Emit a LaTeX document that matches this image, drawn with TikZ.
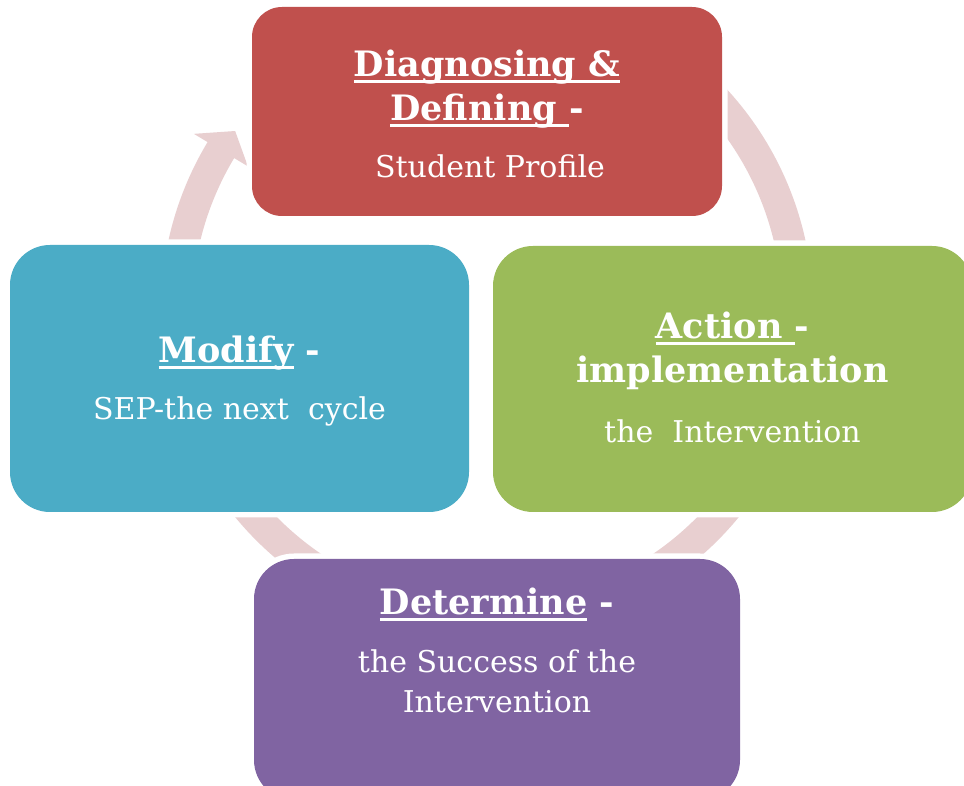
\documentclass[tikz,border=0pt]{standalone}
\usepackage{fontspec}
\setmainfont{DejaVu Serif}
\usetikzlibrary{calc}

\definecolor{diagred}{HTML}{C0504D}
\definecolor{actgreen}{HTML}{9BBB59}
\definecolor{modblue}{HTML}{4BACC6}
\definecolor{detpurple}{HTML}{8064A2}
\definecolor{ringpink}{RGB}{232,207,208}

% underline drawn at a fixed depth, so descenders cross it
\newlength\ulwd
\newcommand\ulword[1]{\settowidth{\ulwd}{#1}\rlap{\rule[-5.7pt]{\ulwd}{2.6pt}}#1}

\tikzset{
  stage/.style={rectangle, inner sep=0pt, outer sep=0pt, draw=none,
    preaction={draw=white, line width=11pt}},
  headline/.style={anchor=base, text=white, inner sep=0pt,
    font=\bfseries\fontsize{35}{40}\selectfont},
  bodyline/.style={anchor=base, text=white, inner sep=0pt,
    font=\fontsize{30}{36}\selectfont},
}

\begin{document}
\begin{tikzpicture}[x=1pt, y=1pt]
  \clip (0,0) rectangle (964,785);
  \fill[white] (0,0) rectangle (964,785);

  % continuous cycle ring behind the stages
  \coordinate (C) at (487,475);
  \fill[ringpink] ($(C)+(148.6:326)$) arc[start angle=148.6, end angle=420, radius=326]
    -- ($(C)+(420:295)$) arc[start angle=420, end angle=148.6, radius=295] -- cycle;
  % arrow head entering the first stage
  \fill[ringpink] ($(C)+(149:342)$) -- ($(C)+(144.6:309)$) -- ($(C)+(149:279)$) -- cycle;

  % stages
  \node[stage, fill=diagred, rounded corners=30pt, minimum width=470pt, minimum height=209pt]
    (diag) at (487,673.5) {};
  \node[stage, fill=actgreen, rounded corners=40pt, minimum width=479pt, minimum height=266pt]
    (act) at (732.5,406) {};
  \node[stage, fill=modblue, rounded corners=40pt, minimum width=459pt, minimum height=267pt]
    (mod) at (239.5,406.5) {};
  \node[stage, fill=detpurple, rounded corners=40pt, minimum width=486pt, minimum height=241pt]
    (det) at (497,105.5) {};

  % Diagnosing & Defining
  \node[headline] (diag-a) at (487,708) {\ulword{Diagnosing \&}};
  \node[headline] (diag-b) at (487,664) {\ulword{Defining\ }-};
  \node[bodyline] (diag-c) at (490,607) {Student Profile};

  % Action
  \node[headline] (act-a) at (732.5,446) {\ulword{Action\ }-};
  \node[headline] (act-b) at (732.5,402) {implementation};
  \node[bodyline] (act-c) at (732.5,342) {the\ \ Intervention};

  % Determine
  \node[headline] (det-a) at (497,170) {\ulword{Determine} -};
  \node[bodyline] (det-b) at (497,113) {the Success of the};
  \node[bodyline] (det-c) at (497,73) {Intervention};

  % Modify
  \node[headline] (mod-a) at (239.5,422) {\ulword{Modify} -};
  \node[bodyline] (mod-b) at (239.5,365) {SEP-the next\ \ cycle};
\end{tikzpicture}
\end{document}
